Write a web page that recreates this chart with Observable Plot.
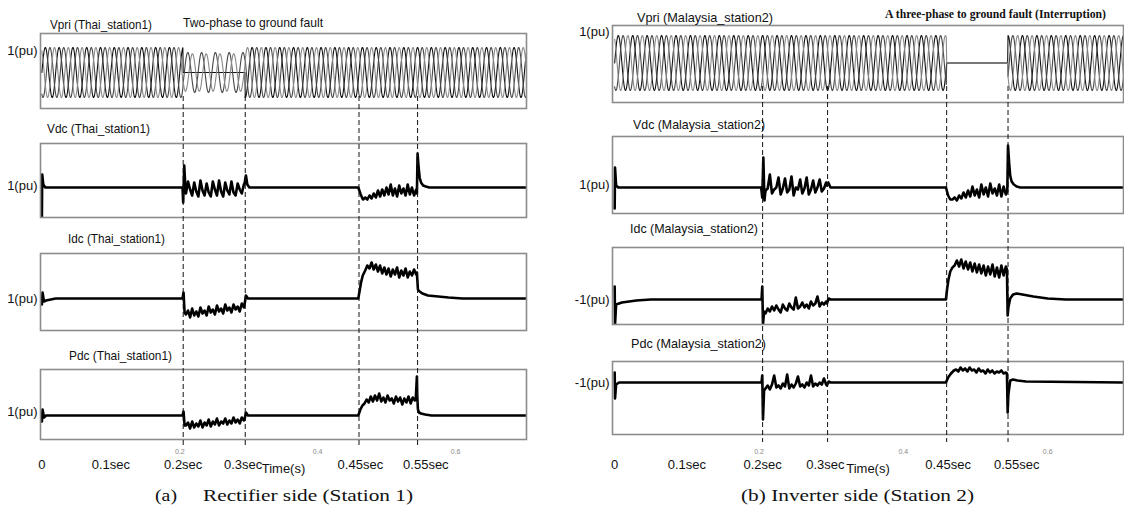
<!DOCTYPE html>
<html><head><meta charset="utf-8">
<script src="https://cdn.jsdelivr.net/npm/d3@7"></script>
<script src="https://cdn.jsdelivr.net/npm/@observablehq/plot@0.6"></script>
<style>
body{margin:0;background:#fff;}
#root{position:relative;width:1124px;height:512px;overflow:hidden;background:#fff;}
.lbl{position:absolute;white-space:pre;font-family:'Liberation Sans Narrow','Liberation Sans',Arial,sans-serif;font-size:13px;color:#111;transform-origin:0 50%;line-height:1;}
</style></head><body><div id="root"></div>
<script>
// ---------------- DATA ----------------
const faultTimes = [0.205, 0.295, 0.46, 0.545];
const mainTickTimes = [0, 0.1, 0.205, 0.292, 0.462, 0.557];
const mainTickLabels = ["0", "0.1sec", "0.2sec", "0.3sec", "0.45sec", "0.55sec"];
const smallTickTimes = [0.2, 0.4, 0.6];
const smallTickLabels = ["0.2", "0.4", "0.6"];

// AC primary voltages: 50 Hz, per-phase amplitude (pu) in each interval
const acFrequency = 50;
const leftVpriBreaks = [0, 0.205, 0.295, 0.703];
const leftVpriAmpA = [1, 0, 1];
const leftVpriAmpB = [1, 0.8, 1];
const leftVpriAmpC = [1, 0.75, 1];
const rightVpriBreaks = [0, 0.46, 0.545, 0.705];
const rightVpriAmpA = [1, 0, 1];
const rightVpriAmpB = [1, 0, 1];
const rightVpriAmpC = [1, 0, 1];

// Rectifier side (Thai_station1)
const leftVdcKnotT = [0, 0.0005, 0.002, 0.005, 0.204, 0.205, 0.2065, 0.208, 0.294, 0.296, 0.298, 0.301, 0.459, 0.462, 0.465, 0.544, 0.545, 0.5465, 0.548, 0.55, 0.553, 0.557, 0.562, 0.703];
const leftVdcKnotV = [0.42, 1.26, 1.06, 1.0, 1.0, 0.70, 1.44, 1.04, 1.08, 1.24, 1.06, 1.0, 1.0, 0.88, 0.78, 0.88, 1.68, 1.40, 1.20, 1.10, 1.04, 1.02, 1.0, 1.0];
const leftVdcFault1 = [0.88, 1.12, 0.96, 0.84, 1.10, 0.92, 0.82, 1.14, 0.94, 0.84, 1.08, 0.90, 0.82, 1.12, 0.96, 0.84, 1.14, 0.92, 0.82, 1.10, 0.94, 0.86, 1.12, 0.90, 0.84, 1.08, 0.96, 0.88, 1.06];
const leftVdcFault2 = [0.76, 0.80, 0.76, 0.84, 0.78, 0.88, 0.80, 0.94, 0.82, 0.96, 0.84, 1.00, 0.86, 1.06, 0.84, 0.98, 0.82, 1.04, 0.88, 0.98, 0.84, 1.06, 0.86, 1.00, 0.84, 0.96];

const leftIdcKnotT = [0, 0.001, 0.003, 0.006, 0.02, 0.204, 0.2055, 0.207, 0.294, 0.296, 0.299, 0.459, 0.461, 0.463, 0.4655, 0.544, 0.5455, 0.548, 0.552, 0.56, 0.575, 0.59, 0.61, 0.703];
const leftIdcKnotV = [0.88, 1.12, 0.94, 0.96, 1.0, 1.0, 1.12, 0.72, 0.88, 1.06, 1.0, 1.0, 1.16, 1.32, 1.46, 1.52, 1.18, 1.14, 1.10, 1.06, 1.04, 1.02, 1.0, 1.0];
const leftIdcFault1 = [0.68, 0.76, 0.62, 0.80, 0.66, 0.74, 0.64, 0.82, 0.70, 0.76, 0.66, 0.84, 0.72, 0.78, 0.68, 0.86, 0.74, 0.80, 0.70, 0.88, 0.76, 0.82, 0.72, 0.88, 0.78, 0.84, 0.74, 0.90, 0.82];
const leftIdcFault2 = [1.56, 1.66, 1.60, 1.72, 1.58, 1.68, 1.54, 1.66, 1.50, 1.62, 1.48, 1.60, 1.44, 1.58, 1.48, 1.62, 1.42, 1.56, 1.46, 1.60, 1.42, 1.54, 1.46, 1.58, 1.48];

const leftPdcKnotT = [0, 0.001, 0.003, 0.006, 0.204, 0.2055, 0.207, 0.294, 0.296, 0.299, 0.459, 0.462, 0.465, 0.5425, 0.544, 0.5445, 0.5455, 0.547, 0.55, 0.556, 0.565, 0.703];
const leftPdcKnotV = [0.88, 1.12, 0.96, 1.0, 1.0, 1.08, 0.80, 0.92, 1.06, 1.0, 1.0, 1.12, 1.20, 1.36, 1.78, 1.40, 1.12, 1.06, 1.04, 1.02, 1.0, 1.0];
const leftPdcFault1 = [0.80, 0.86, 0.74, 0.88, 0.76, 0.84, 0.78, 0.90, 0.76, 0.86, 0.80, 0.92, 0.78, 0.88, 0.82, 0.94, 0.80, 0.88, 0.84, 0.94, 0.82, 0.90, 0.84, 0.96, 0.86, 0.92, 0.84, 0.96, 0.90];
const leftPdcFault2 = [1.24, 1.32, 1.26, 1.38, 1.28, 1.40, 1.30, 1.44, 1.28, 1.36, 1.26, 1.40, 1.30, 1.34, 1.24, 1.38, 1.28, 1.36, 1.22, 1.34, 1.26, 1.38, 1.24, 1.36, 1.30];

// Inverter side (Malaysia_station2)
const rightVdcKnotT = [0, 0.0005, 0.002, 0.005, 0.203, 0.2045, 0.206, 0.2075, 0.294, 0.296, 0.299, 0.459, 0.462, 0.465, 0.544, 0.545, 0.5465, 0.548, 0.55, 0.553, 0.557, 0.562, 0.705];
const rightVdcKnotV = [0.58, 1.40, 1.04, 1.0, 1.0, 0.80, 1.60, 0.74, 1.04, 1.10, 1.0, 1.0, 0.84, 0.76, 0.92, 1.84, 1.50, 1.24, 1.12, 1.06, 1.02, 1.0, 1.0];
const rightVdcFault1 = [0.94, 0.98, 1.26, 0.88, 0.96, 1.0, 1.20, 0.86, 0.98, 1.18, 0.90, 0.96, 1.22, 0.84, 1.0, 0.96, 1.16, 0.88, 0.98, 1.20, 0.86, 0.96, 1.14, 0.90, 1.0, 1.16, 0.92, 0.98, 1.10];
const rightVdcFault2 = [0.76, 0.80, 0.74, 0.84, 0.78, 0.90, 0.80, 0.94, 0.82, 1.02, 0.84, 0.96, 0.80, 1.06, 0.86, 1.0, 0.82, 1.08, 0.88, 0.98, 0.84, 1.06, 0.82, 1.02, 0.86];

const rightIdcKnotT = [0, 0.0005, 0.002, 0.01, 0.03, 0.05, 0.2035, 0.2045, 0.2055, 0.207, 0.294, 0.2965, 0.299, 0.459, 0.4605, 0.4625, 0.465, 0.468, 0.5435, 0.5445, 0.5455, 0.548, 0.552, 0.557, 0.565, 0.58, 0.6, 0.625, 0.705];
const rightIdcKnotV = [-0.74, -1.50, -1.10, -1.06, -1.02, -1.0, -1.0, -0.74, -1.50, -1.24, -1.08, -0.98, -1.0, -1.0, -0.80, -0.60, -0.44, -0.36, -0.40, -1.32, -1.16, -0.98, -0.90, -0.88, -0.90, -0.94, -0.98, -1.0, -1.0];
const rightIdcFault1 = [-1.28, -1.18, -1.24, -1.14, -1.22, -1.12, -1.20, -1.26, -1.10, -1.18, -1.22, -1.08, -1.16, -1.20, -0.96, -1.18, -1.14, -1.06, -1.16, -1.10, -1.18, -1.04, -1.12, -1.08, -0.94, -1.14, -1.06, -1.10, -1.04];
const rightIdcFault2 = [-0.32, -0.22, -0.34, -0.20, -0.38, -0.24, -0.40, -0.26, -0.44, -0.28, -0.46, -0.30, -0.48, -0.32, -0.52, -0.34, -0.50, -0.30, -0.54, -0.36, -0.56, -0.32, -0.52, -0.34];

const rightPdcKnotT = [0, 0.0005, 0.002, 0.006, 0.2035, 0.2045, 0.2055, 0.207, 0.294, 0.2965, 0.299, 0.459, 0.462, 0.466, 0.47, 0.5435, 0.5445, 0.5455, 0.548, 0.552, 0.558, 0.57, 0.705];
const rightPdcKnotV = [-0.80, -1.32, -1.04, -1.0, -1.0, -0.86, -1.74, -1.16, -1.06, -0.98, -1.0, -1.0, -0.90, -0.82, -0.76, -0.82, -1.60, -1.24, -0.96, -0.94, -0.96, -0.98, -1.0];
const rightPdcFault1 = [-1.12, -1.06, -1.14, -1.04, -0.86, -1.10, -1.06, -1.12, -1.02, -1.08, -0.84, -1.12, -1.04, -1.10, -1.02, -0.88, -1.08, -1.04, -1.10, -1.0, -1.06, -0.86, -1.08, -1.02, -1.06, -1.0, -1.04, -0.92, -1.04];
const rightPdcFault2 = [-0.74, -0.78, -0.70, -0.76, -0.72, -0.78, -0.70, -0.76, -0.74, -0.80, -0.72, -0.78, -0.76, -0.82, -0.74, -0.80, -0.76, -0.82, -0.78, -0.80, -0.76, -0.82, -0.80];

// ---------------- BUILD ----------------
const FONT = "'Liberation Sans Narrow','Liberation Sans',Arial,sans-serif";
const SERIF = "'Liberation Serif','Times New Roman',serif";
const root = document.getElementById("root");

function dcSeries(knotT, knotV, f1, f1Span, f2, f2Span) {
  const pts = knotT.map((t, i) => ({t, v: knotV[i]}));
  [[f1, f1Span], [f2, f2Span]].forEach(([vals, [a, b]]) =>
    vals.forEach((v, i) => pts.push({t: a + (b - a) * i / (vals.length - 1), v})));
  return pts.sort((p, q) => p.t - q.t);
}
function acSeries(breaks, amps, phaseIndex) {
  const out = [];
  const shift = [0, -2 * Math.PI / 3, 2 * Math.PI / 3][phaseIndex];
  const tEnd = breaks[breaks.length - 1];
  for (let k = 0; k * 0.0005 <= tEnd + 1e-9; k++) {
    const t = k * 0.0005;
    let s = 0; while (s < breaks.length - 2 && t >= breaks[s + 1]) s++;
    out.push({t, v: amps[s] * Math.sin(2 * Math.PI * acFrequency * t + shift)});
  }
  return out;
}

function label(text, x, yc, width, o = {}) {
  const s = document.createElement("span");
  s.className = "lbl";
  s.textContent = text;
  if (o.font) s.style.fontFamily = o.font;
  if (o.size) s.style.fontSize = o.size + "px";
  if (o.weight) s.style.fontWeight = o.weight;
  if (o.color) s.style.color = o.color;
  s.style.left = x + "px";
  root.appendChild(s);
  const h = s.offsetHeight;
  s.style.top = (yc - h / 2) + "px";
  if (width) { const w = s.getBoundingClientRect().width; s.style.transform = `scaleX(${width / w})`; }
}

const leftCol = {x0: 0, boxRight: 526, domainX: [-0.002, 0.703]};
const rightCol = {x0: 572, boxRight: 1123, domainX: [-0.003, 0.705]};
const phaseColors = ["#111111", "#484848", "#8a8a8a"];

function drawPanel(p) {
  const col = p.col;
  const marginLeft = 40, marginTop = 2, marginRight = 1;
  const marginBottom = p.bottom ? 60 : 2;
  const width = (col.boxRight - col.x0) + marginRight;
  const height = (p.boxBottom - p.boxTop) + marginTop + marginBottom;
  const marks = [];
  if (p.ac) {
    p.ac.forEach((series, i) => marks.push(Plot.line(series, {x: "t", y: "v", stroke: phaseColors[i], strokeWidth: 1.1, clip: true})));
  }
  if (p.dc) {
    marks.push(Plot.line(p.dc, {x: "t", y: "v", stroke: "#000", strokeWidth: 2.6, clip: true}));
  }
  marks.push(Plot.frame({stroke: "#8c8c8c", strokeWidth: 1.6}));
  marks.push(Plot.axisY({ticks: [p.tick], tickFormat: () => p.tickText, tickSize: 0, tickPadding: 3, fontSize: 13, dy: p.tickDy || 0, label: null}));
  if (p.bottom) {
    marks.push(Plot.axisX({ticks: mainTickTimes, tickFormat: d => mainTickLabels[mainTickTimes.indexOf(d)], tickSize: 0, tickPadding: p.mainPad, fontSize: 13, label: null}));
    marks.push(Plot.axisX({ticks: smallTickTimes, tickFormat: d => smallTickLabels[smallTickTimes.indexOf(d)], tickSize: 0, tickPadding: p.smallPad, fontSize: 7, fill: "#888", label: null}));
    marks.push(Plot.text(["Time(s)"], {frameAnchor: "bottom", dy: p.timeDy, fontSize: 13}));
  }
  const plot = Plot.plot({
    width, height, marginLeft, marginRight, marginTop, marginBottom,
    x: {domain: col.domainX, axis: p.bottom ? undefined : null},
    y: {domain: p.domainY},
    style: {background: "transparent", fontFamily: FONT, fontSize: "13px", color: "#111", overflow: "visible"},
    marks
  });
  plot.style.position = "absolute";
  plot.style.left = col.x0 + "px";
  plot.style.top = (p.boxTop - marginTop) + "px";
  root.appendChild(plot);
}

function drawMarkers(col, top, bottom) {
  const plot = Plot.plot({
    width: (col.boxRight - col.x0) + 1, height: bottom - top,
    marginLeft: 40, marginRight: 1, marginTop: 0, marginBottom: 0,
    x: {domain: col.domainX, axis: null},
    style: {background: "transparent", overflow: "visible"},
    marks: [Plot.ruleX(faultTimes, {stroke: "#111", strokeWidth: 1, strokeDasharray: "5,3"})]
  });
  plot.style.position = "absolute";
  plot.style.left = col.x0 + "px";
  plot.style.top = top + "px";
  plot.style.pointerEvents = "none";
  root.appendChild(plot);
}

try {
  const f1 = [0.209, 0.293];
  const leftVpri = [leftVpriAmpA, leftVpriAmpB, leftVpriAmpC].map((a, i) => acSeries(leftVpriBreaks, a, i));
  const rightVpri = [rightVpriAmpA, rightVpriAmpB, rightVpriAmpC].map((a, i) => acSeries(rightVpriBreaks, a, i));

  drawPanel({col: leftCol, boxTop: 33, boxBottom: 108, domainY: [-1.44, 1.56], ac: leftVpri, tick: 1, tickText: "1(pu)", tickDy: 3});
  drawPanel({col: leftCol, boxTop: 143, boxBottom: 217, domainY: [0.4, 1.88], dc: dcSeries(leftVdcKnotT, leftVdcKnotV, leftVdcFault1, f1, leftVdcFault2, [0.466, 0.543]), tick: 1, tickText: "1(pu)", tickDy: -2});
  drawPanel({col: leftCol, boxTop: 253, boxBottom: 330, domainY: [0.36, 1.9], dc: dcSeries(leftIdcKnotT, leftIdcKnotV, leftIdcFault1, f1, leftIdcFault2, [0.469, 0.543]), tick: 1, tickText: "1(pu)"});
  drawPanel({col: leftCol, boxTop: 369, boxBottom: 439, domainY: [0.52, 1.92], dc: dcSeries(leftPdcKnotT, leftPdcKnotV, leftPdcFault1, f1, leftPdcFault2, [0.468, 0.541]), tick: 1, tickText: "1(pu)", tickDy: -4, bottom: true, mainPad: 20, smallPad: 10, timeDy: 33});

  drawPanel({col: rightCol, boxTop: 25, boxBottom: 102, domainY: [-1.436, 1.364], ac: rightVpri, tick: 1, tickText: "1(pu)", tickDy: -4});
  drawPanel({col: rightCol, boxTop: 136, boxBottom: 213, domainY: [0.48, 2.02], dc: dcSeries(rightVdcKnotT, rightVdcKnotV, rightVdcFault1, f1, rightVdcFault2, [0.468, 0.542]), tick: 1, tickText: "1(pu)", tickDy: -3});
  drawPanel({col: rightCol, boxTop: 247, boxBottom: 324, domainY: [-1.5, 0.04], dc: dcSeries(rightIdcKnotT, rightIdcKnotV, rightIdcFault1, f1, rightIdcFault2, [0.471, 0.542]), tick: -1, tickText: "-1(pu)"});
  drawPanel({col: rightCol, boxTop: 361, boxBottom: 434, domainY: [-2.04, -0.58], dc: dcSeries(rightPdcKnotT, rightPdcKnotV, rightPdcFault1, f1, rightPdcFault2, [0.473, 0.542]), tick: -1, tickText: "-1(pu)", bottom: true, mainPad: 25, smallPad: 15, timeDy: 38});

  drawMarkers(leftCol, 96, 448);
  drawMarkers(rightCol, 86, 442);

  label("Vpri (Thai_station1)", 50, 24, 102);
  label("Two-phase to ground fault", 183, 22, 140);
  label("Vdc (Thai_station1)", 47, 128, 103);
  label("Idc (Thai_station1)", 68, 238, 97);
  label("Pdc (Thai_station1)", 69, 355, 103);

  label("Vpri (Malaysia_station2)", 637, 17, 136);
  label("A three-phase to ground fault (Interruption)", 885, 13, 221, {font: SERIF, weight: "bold", size: 13});
  label("Vdc (Malaysia_station2)", 633, 124, 132);
  label("Idc (Malaysia_station2)", 630, 228, 128);
  label("Pdc (Malaysia_station2)", 631, 343, 135);

  label("(a)", 155, 496, 22, {font: SERIF, size: 16});
  label("Rectifier side (Station 1)", 203, 496, 210, {font: SERIF, size: 16});
  label("(b) Inverter side (Station 2)", 741, 496, 233, {font: SERIF, size: 16});
} catch (e) {
  const pre = document.createElement("pre"); pre.textContent = e.stack; root.appendChild(pre);
}
</script></body></html>
